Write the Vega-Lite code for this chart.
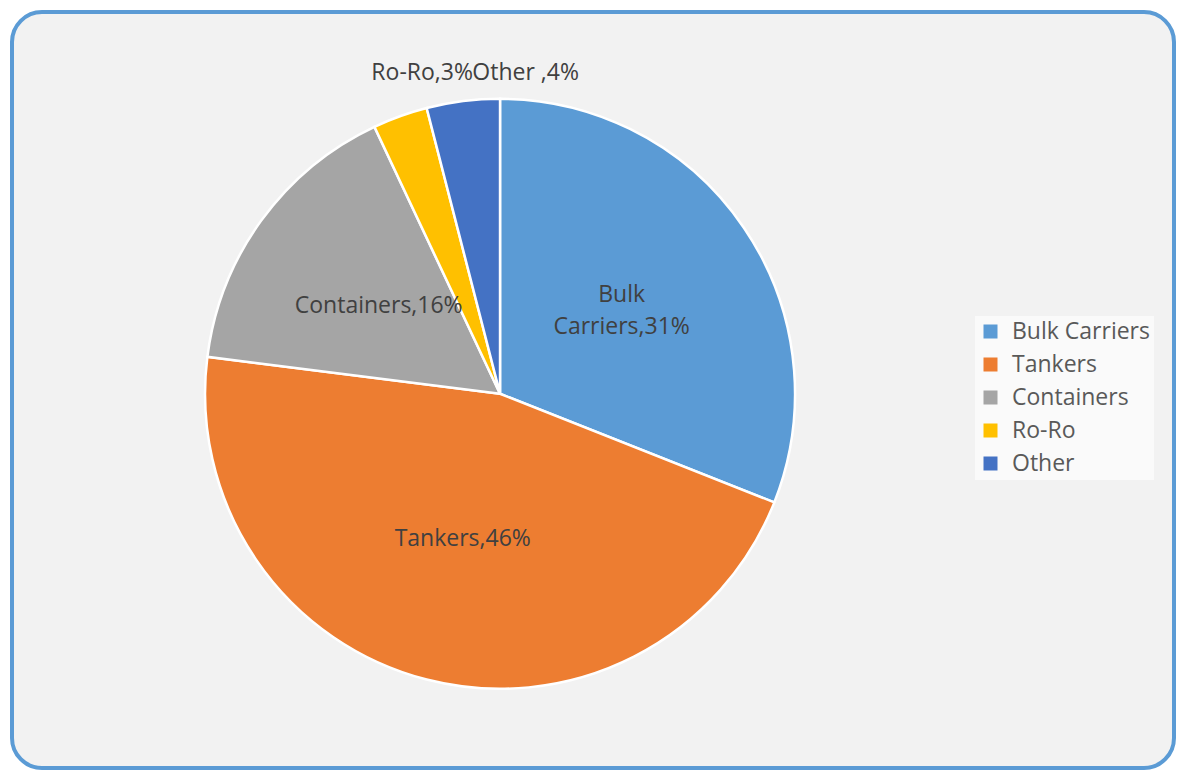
{
  "$schema": "https://vega.github.io/schema/vega-lite/v6.json",
  "width": 1180,
  "height": 775,
  "autosize": {"type": "fit", "contains": "padding"},
  "padding": {"left": 12, "top": 12, "right": 6, "bottom": 7},
  "background": "#ffffff",
  "config": {
    "view": {"fill": "#f2f2f2", "stroke": "#5b9bd5", "strokeWidth": 4, "cornerRadius": 30},
    "font": "Open Sans"
  },
  "data": {
    "values": [
      {"type": "Bulk Carriers", "share": 31, "ord": 1, "label": "Bulk\nCarriers,31%"},
      {"type": "Tankers", "share": 46, "ord": 2, "label": "Tankers,46%"},
      {"type": "Containers", "share": 16, "ord": 3, "label": "Containers,16%"},
      {"type": "Ro-Ro", "share": 3, "ord": 4, "label": "Ro-Ro,3%"},
      {"type": "Other", "share": 4, "ord": 5, "label": "Other ,4%"}
    ]
  },
  "encoding": {
    "theta": {"field": "share", "type": "quantitative", "stack": true},
    "order": {"field": "ord", "type": "quantitative", "sort": "ascending"},
    "x": {"datum": 0.42, "type": "quantitative", "scale": {"domain": [0, 1]}, "axis": null},
    "y": {"datum": 0.495, "type": "quantitative", "scale": {"domain": [0, 1]}, "axis": null}
  },
  "layer": [
    {
      "mark": {"type": "arc", "radius": 295, "stroke": "#ffffff", "strokeWidth": 2.5},
      "encoding": {
        "color": {
          "field": "type",
          "type": "nominal",
          "scale": {
            "domain": ["Bulk Carriers", "Tankers", "Containers", "Ro-Ro", "Other"],
            "range": ["#5b9bd5", "#ed7d31", "#a5a5a5", "#ffc000", "#4472c4"]
          },
          "legend": {
            "title": null,
            "orient": "none",
            "legendX": 963,
            "legendY": 304,
            "fillColor": "#fafafa",
            "padding": 4,
            "symbolType": "square",
            "symbolSize": 196,
            "symbolStrokeWidth": 0,
            "labelFontSize": 23,
            "labelColor": "#595959",
            "labelFont": "Open Sans",
            "labelOffset": 10,
            "rowPadding": 9,
            "labelLimit": 300
          }
        }
      }
    },
    {
      "mark": {"type": "text", "radius": 150, "fontSize": 23, "color": "#404040", "align": "center", "baseline": "middle"},
      "encoding": {
        "text": {"condition": {"test": "datum.share >= 10 && datum.type != 'Bulk Carriers'", "field": "label"}, "value": ""}
      }
    },
    {
      "mark": {"type": "text", "radius": 147, "fontSize": 23, "color": "#404040", "lineBreak": "\n", "lineHeight": 32, "align": "center", "baseline": "middle", "dy": -16},
      "encoding": {
        "text": {"condition": {"test": "datum.type == 'Bulk Carriers'", "field": "label"}, "value": ""}
      }
    },
    {
      "mark": {"type": "text", "radius": 325, "fontSize": 23, "color": "#404040", "align": "right", "baseline": "middle", "dx": 83, "dy": -15},
      "encoding": {
        "text": {"condition": {"test": "datum.type == 'Ro-Ro'", "field": "label"}, "value": ""}
      }
    },
    {
      "mark": {"type": "text", "radius": 325, "fontSize": 23, "color": "#404040", "align": "left", "baseline": "middle", "dx": 13, "dy": 2},
      "encoding": {
        "text": {"condition": {"test": "datum.type == 'Other'", "field": "label"}, "value": ""}
      }
    }
  ]
}
